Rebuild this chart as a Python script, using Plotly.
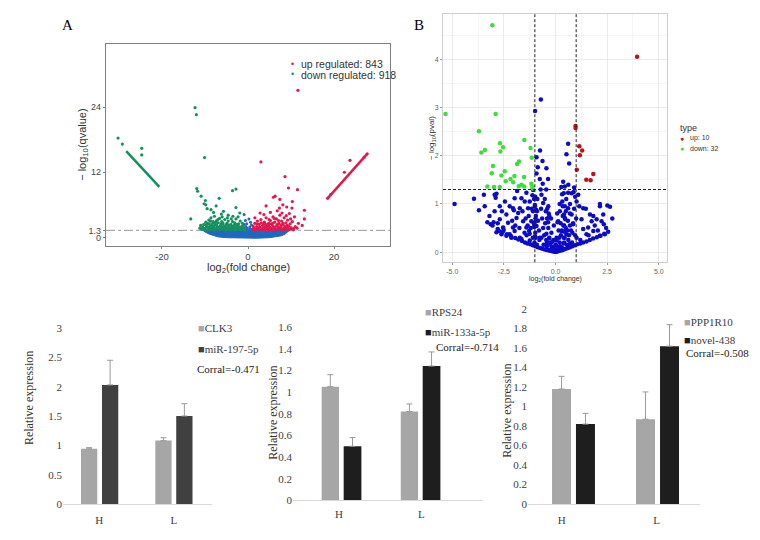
import plotly.graph_objects as go

W, H = 760, 540
def px(x): return x / W
def py(y): return 1 - y / H

# ---------------- Panel A data ----------------
a_green_x = [-30.2,-29.2,-24.7,-24.7,-12.3,-12.0,-10.1,-11.9,-11.7,-10.9,-9.9,-9.8,-6.7,-3.6,-2.8,-13.3,-8.6,-7.4,-5.7,-2.8,-1.9,-10.2,-9.5,-8.0,-6.2,-4.6,-3.5,
             -11.0,-10.6,-10.3,-10.0,-9.8,-9.6,-9.3,-9.1,-9.0,-8.8,-8.6,-8.5,-8.3,-8.1,-7.9,-7.8,-7.6,-7.4,-7.3,-7.1,-6.9,-6.8,-6.6,-6.4,-6.3,-6.1,-5.9,-5.8,-5.6,-5.4,-5.3,-5.1,-4.9,-4.7,-4.6,-4.4,-4.2,-4.0,-3.8,-3.6,-3.4,-3.2,-3.0,-2.8,-2.6,-2.4,-2.2,-2.0,-1.8,-1.6,-1.4,-1.2,-1.0,-0.8,
             -10.8,-9.9,-8.9,-7.7,-6.5,-5.2,-4.1,-2.9,-1.7,-8.2,-7.0,-6.0,-5.0,-3.9,-3.1,-2.3,-9.4,-8.7,-7.5,-6.2,-4.8,-1.3,-11.2,-10.4,-9.7,-8.4,-7.2,-5.7,-4.5,-3.3,-2.1,-1.5,
             -10.5,-9.2,-8.0,-6.7,-5.5,-4.3,-3.0,-1.9,-0.9,-7.9,-6.4,-5.1,-3.7,-2.5,-9.0,-7.3,-5.9,-4.4,-2.7]
a_green_y = [18.3,17.2,16.4,15.2,23.9,22.6,14.7,9.0,8.5,7.6,6.8,6.0,7.2,8.6,8.9,3.4,5.1,5.8,4.8,5.5,4.5,6.2,5.3,4.6,4.3,4.1,3.9,
             2.2,1.9,2.4,1.6,2.8,2.0,1.5,3.2,2.5,1.8,3.6,2.2,1.5,2.9,1.9,3.9,2.4,1.6,3.1,2.0,2.7,1.5,3.5,2.2,1.7,2.9,1.9,2.5,1.5,3.3,2.1,1.7,2.6,1.5,3.0,2.0,1.6,2.4,1.8,2.9,1.5,2.2,1.7,3.4,1.9,1.5,2.5,1.7,3.0,1.6,2.1,1.5,1.8,1.4,
             1.5,1.4,1.4,1.4,1.4,1.4,1.4,1.4,1.4,2.6,3.3,3.8,2.2,3.4,2.7,3.8,2.6,3.0,2.8,2.5,3.6,2.6,1.7,1.7,2.3,1.9,1.7,2.0,1.8,1.9,2.0,1.7,
             1.6,1.7,1.6,1.8,1.6,1.7,1.6,1.8,1.6,2.1,2.0,2.3,2.1,2.2,2.0,2.3,2.7,2.2,2.4]
a_green_line_x = [-28.3, -20.6]
a_green_line_y = [15.9, 9.3]

a_red_x = [11.6,3.0,8.6,9.4,11.5,5.9,6.3,7.4,10.3,13.1,13.1,4.2,7.3,9.0,10.2,2.8,1.6,11.7,12.6,8.1,6.8,5.2,3.7,9.6,10.8,
           1.0,1.2,1.4,1.6,1.8,2.0,2.2,2.4,2.6,2.8,3.0,3.2,3.4,3.6,3.8,4.0,4.2,4.4,4.6,4.8,5.0,5.2,5.4,5.6,5.8,6.0,6.2,6.4,6.6,6.8,7.0,7.2,7.4,7.6,7.8,8.0,8.2,8.4,8.6,8.8,9.0,9.2,9.4,9.6,9.8,10.0,10.3,10.6,11.0,11.4,
           1.5,2.5,3.5,4.5,5.5,6.5,7.5,8.5,9.5,10.5,2.1,3.1,4.1,5.1,6.1,7.1,8.1,9.1,4.9,6.9,8.9,7.9,3.9,5.9,7.7,9.9,
           1.3,2.3,3.3,4.3,5.3,6.3,7.3,8.3,9.3,10.1,4.7,5.7,6.7,8.7,3.6,
           22.4,23.7,19.2,27.0,18.5,27.7]
a_red_y = [27.1,13.9,11.2,9.1,8.8,7.4,7.6,7.0,6.6,5.0,3.4,5.8,5.4,5.6,5.4,4.5,3.6,2.6,2.2,6.0,4.9,4.6,4.2,4.4,3.8,
           1.5,2.1,1.7,2.6,1.5,2.0,3.0,1.6,2.4,1.9,3.3,1.5,2.2,1.7,2.8,1.5,3.6,2.0,1.6,2.6,1.9,3.1,1.5,2.3,3.8,1.8,2.8,1.5,3.4,2.1,1.7,2.6,4.1,1.9,3.0,1.5,2.3,3.6,1.8,2.7,1.6,3.2,2.1,1.5,2.5,1.8,2.9,1.6,2.0,1.7,
           1.4,1.4,1.4,1.4,1.4,1.4,1.4,1.4,1.4,1.4,2.5,2.7,2.4,2.5,3.5,3.1,2.6,2.2,3.3,2.4,4.0,4.5,1.9,2.0,2.2,3.4,
           1.7,1.8,1.6,1.8,1.7,1.9,1.8,1.7,1.9,1.6,2.2,2.6,2.3,2.0,2.4,
           12.0,14.2,7.9,14.8,7.2,15.4]
a_red_line_x = [18.5, 27.7]
a_red_line_y = [7.2, 15.4]

a_blue_outline_x = [-10.8,-10.0,-9.0,-8.0,-7.0,-5.0,-2.0,0.0,2.0,5.0,6.8,7.8,8.6,9.3,9.9,9.9,-10.8]
a_blue_outline_y = [1.5,1.0,0.6,0.3,0.1,-0.05,-0.15,-0.2,-0.15,-0.05,0.1,0.3,0.6,1.0,1.5,1.5,1.5]
a_blue_x = [-0.9,-0.6,-0.3,0.2,0.6,-0.5,0.4,0.8,-0.9,-0.2,0.5]
a_blue_y = [4.2,3.1,2.5,3.4,2.8,2.0,1.9,2.3,2.4,1.7,1.6]

# ---------------- Panel B data ----------------
b_up_x = [3.95,0.97,0.97,1.15,1.29,1.18,1.03,1.83,1.49,1.70]
b_up_y = [4.06,2.62,2.58,2.20,2.11,2.01,1.71,1.62,1.50,1.49]
b_down_x = [-3.06,-5.33,-2.90,-3.71,-3.59,-3.42,-2.69,-2.54,-2.67,-1.51,-1.21,-1.15,-3.03,-3.09,-2.46,-2.62,-2.41,-1.99,-1.86,-1.77,-1.52,-3.30,-2.98,-2.70,-1.78,-1.65,-1.52,-1.17,-1.12,-2.18,-1.12,-2.05]
b_down_y = [4.71,2.87,2.87,2.51,2.07,2.12,2.26,2.18,2.09,2.33,2.16,1.96,1.79,1.64,1.68,1.59,1.47,1.58,1.83,1.88,1.56,1.36,1.35,1.35,1.37,1.40,1.36,1.42,1.36,1.52,1.32,1.45]
b_ns_x = [-4.89,-3.95,-3.71,-3.43,-3.47,-3.14,-2.86,-2.90,-2.70,-2.74,-2.54,-2.38,-2.30,-2.06,-2.02,-1.86,-1.81,-1.65,-1.57,-1.41,-1.33,-1.28,-1.09,
          -0.92,-0.86,-0.76,-0.68,-0.60,-0.47,-0.41,-1.09,-1.17,-0.92,-0.76,-0.44,-0.12,-1.73,-1.98,-2.22,
          -2.86,-2.62,-2.51,-2.38,-2.14,-2.06,-1.89,-1.73,-1.65,-1.41,-1.25,-1.49,-1.98,-2.22,-2.70,-2.95,
          -0.71,-0.99,-0.75,-0.63,-0.44,-0.36,-0.92,
          0.61,0.53,0.66,0.37,0.45,0.40,0.61,0.78,0.90,1.02,1.15,1.34,1.47,1.67,1.83,2.15,2.15,2.51,2.64,2.75,2.31,2.23,2.34,1.99,1.75,1.58,1.83,2.15,2.39,1.34,1.26,1.50,1.02,0.69,0.37,
          0.21,0.13,0.45,0.61,0.78,0.85,0.29,0.53,1.10,0.05,-0.12,
          -1.0,-0.95,-1.05,-0.98,-1.02,-0.9,-0.85,-0.8,-0.7,-0.65,-0.6,-0.55,-0.5,-0.45,-0.35,-0.3,-0.25,-0.2,-0.15,-0.1,-0.05,0.0,0.05,0.1,0.15,0.2,0.25,0.3,0.35,0.4,0.45,0.5,0.55,0.6,0.65,0.7,0.75,0.8,0.85,0.9,0.95,1.0,
          -1.15,-1.2,-1.1,-1.3,-1.4,-0.88,-0.72,-0.52,-0.35,-0.22,-0.08,0.08,0.2,0.32,0.52,0.7,0.88,-1.12,-1.25,-0.62,-0.45,0.28,0.62,0.95,-0.3,0.1,0.42,-0.78,-0.58,0.62,0.82,
          -3.2,-2.95,-2.6,-2.45,-2.1,-1.95,-1.75,-1.6,-1.45,-1.5,-1.35,-1.25,-3.0,-2.8,-0.98,-1.02,-0.96,-0.9,-0.68,0.42,0.58,0.5,0.7,1.9,2.45,2.05,1.6,1.2,
          -3.3,-3.05,-2.8,-2.55,-2.35,-2.15,-1.95,-1.8,-1.62,-1.48,-1.36,-1.22,-1.1,-0.98,-0.86,-0.74,-0.63,-0.52,-0.42,-0.32,-0.24,-0.16,-0.08,-0.02,
          0.03,0.09,0.16,0.24,0.32,0.41,0.5,0.6,0.7,0.82,0.94,1.06,1.2,1.34,1.5,1.66,1.82,2.0,2.18,2.36,2.55,
          -1.04,-1.0,-0.97,-1.03,-0.99,-1.06,-0.94,-1.01,-0.4,-0.36,-0.44,-0.38,-0.33,-0.42,0.35,0.41,0.38,0.44,0.33,0.47,0.39,0.43,
          -0.28,-0.18,-0.1,-0.02,0.06,0.14,0.22,-0.22,-0.14,0.02,0.18,0.26,-0.32,0.31]
b_ns_y = [1.00,1.11,0.87,0.95,1.19,0.58,1.21,1.13,0.68,0.44,0.51,0.78,0.61,0.91,0.87,1.27,0.81,1.12,0.64,1.23,0.91,0.44,1.29,
          1.97,1.76,1.52,1.19,1.02,0.85,0.70,0.85,0.64,0.54,0.30,0.17,0.07,0.30,0.44,0.37,
          0.41,0.37,0.46,0.34,0.30,0.51,0.71,0.91,0.27,0.51,0.24,1.05,1.12,0.95,0.95,1.19,
          3.17,2.93,2.11,1.89,1.74,1.52,1.63,
          2.25,2.03,1.84,1.46,1.36,1.22,1.23,1.22,1.34,1.05,0.95,0.91,0.90,0.78,0.75,1.00,0.95,0.97,0.94,0.70,0.78,0.64,0.58,0.68,0.64,0.51,0.44,0.34,0.37,0.48,0.68,0.37,0.30,0.17,0.07,
          0.85,0.64,0.71,0.91,0.78,0.58,0.44,0.37,1.19,0.24,0.10,
          0.95,0.75,0.6,0.4,0.2,0.85,0.65,0.45,0.9,0.7,0.5,0.35,0.6,0.25,0.5,0.3,0.15,0.4,0.1,0.25,0.05,0.15,0.3,0.05,0.45,0.2,0.6,0.1,0.75,0.3,0.95,0.5,0.15,0.65,0.35,0.8,0.45,0.2,0.6,0.9,0.35,0.7,
          0.9,0.5,0.3,0.75,0.35,1.1,1.3,1.1,0.95,0.7,0.55,0.8,1.0,1.2,1.1,1.0,1.25,1.18,1.05,1.42,1.3,1.35,1.4,1.15,0.75,0.62,0.55,0.25,0.15,0.25,0.4,
          0.75,0.85,0.85,1.05,0.65,0.55,0.5,0.85,0.7,0.4,0.55,0.38,0.62,0.6,1.15,0.55,0.3,0.15,0.3,0.2,0.45,0.85,0.55,0.55,0.5,0.45,0.35,0.25,
          0.62,0.55,0.48,0.42,0.37,0.33,0.29,0.26,0.23,0.2,0.18,0.16,0.14,0.12,0.1,0.085,0.07,0.055,0.045,0.035,0.025,0.015,0.01,0.005,
          0.005,0.01,0.02,0.03,0.04,0.055,0.07,0.085,0.1,0.12,0.14,0.16,0.18,0.2,0.22,0.25,0.28,0.31,0.34,0.38,0.42,
          1.1,0.98,0.7,0.52,0.33,0.15,0.88,0.62,0.9,0.62,0.38,0.2,0.8,0.12,0.95,0.78,0.55,0.3,1.05,0.68,0.18,0.42,
          0.05,0.08,0.03,0.04,0.06,0.09,0.12,0.2,0.22,0.14,0.3,0.35,0.28,0.45]

# ---------------- Bar panels data ----------------
groups = ["H", "L"]
c_gene, c_gene_vals, c_gene_err = "CLK3", [0.94, 1.08], [0.02, 0.05]
c_mir, c_mir_vals, c_mir_err = "miR-197-5p", [2.03, 1.50], [0.42, 0.21]
c_corr = "Corral=-0.471"
d_gene, d_gene_vals, d_gene_err = "RPS24", [1.05, 0.82], [0.11, 0.07]
d_mir, d_mir_vals, d_mir_err = "miR-133a-5p", [0.50, 1.24], [0.08, 0.13]
d_corr = "Corral=-0.714"
e_gene, e_gene_vals, e_gene_err = "PPP1R10", [1.18, 0.87], [0.13, 0.28]
e_mir, e_mir_vals, e_mir_err = "novel-438", [0.82, 1.62], [0.11, 0.22]
e_corr = "Corral=-0.508"

c_ticks = [0, 0.5, 1, 1.5, 2, 2.5, 3]
c_ticktext = ["0", "0.5", "1", "1.5", "2", "2.5", "3"]
d_ticks = [0, 0.2, 0.4, 0.6, 0.8, 1, 1.2, 1.4, 1.6]
d_ticktext = ["0", "0.2", "0.4", "0.6", "0.8", "1", "1.2", "1.4", "1.6"]
e_ticks = [0, 0.2, 0.4, 0.6, 0.8, 1, 1.2, 1.4, 1.6, 1.8, 2]
e_ticktext = ["0", "0.2", "0.4", "0.6", "0.8", "1", "1.2", "1.4", "1.6", "1.8", "2"]

A_RED, A_GREEN, A_BLUE = "#e2184d", "#17905e", "#1f68c1"
B_RED, B_GREEN, B_BLUE = "#b8141b", "#3fdc3f", "#0b0bc8"
LIGHT_BAR = "#a6a6a6"

fig = go.Figure()

# Panel A traces
fig.add_trace(go.Scatter(x=a_blue_outline_x, y=a_blue_outline_y, fill="toself", fillcolor=A_BLUE,
                         line=dict(color=A_BLUE, width=1), mode="lines", xaxis="x", yaxis="y", hoverinfo="skip"))
fig.add_trace(go.Scatter(x=a_blue_x, y=a_blue_y, mode="markers", marker=dict(color=A_BLUE, size=3), xaxis="x", yaxis="y"))
fig.add_trace(go.Scatter(x=a_green_line_x, y=a_green_line_y, mode="lines", line=dict(color=A_GREEN, width=2.5), xaxis="x", yaxis="y"))
fig.add_trace(go.Scatter(x=a_red_line_x, y=a_red_line_y, mode="lines", line=dict(color=A_RED, width=2.5), xaxis="x", yaxis="y"))
fig.add_trace(go.Scatter(x=a_green_x, y=a_green_y, mode="markers", marker=dict(color=A_GREEN, size=3.2), xaxis="x", yaxis="y"))
fig.add_trace(go.Scatter(x=a_red_x, y=a_red_y, mode="markers", marker=dict(color=A_RED, size=3.2), xaxis="x", yaxis="y"))

# Panel B traces
fig.add_trace(go.Scatter(x=b_ns_x, y=b_ns_y, mode="markers", marker=dict(color=B_BLUE, size=4.5), xaxis="x2", yaxis="y2"))
fig.add_trace(go.Scatter(x=b_down_x, y=b_down_y, mode="markers", marker=dict(color=B_GREEN, size=4.5), xaxis="x2", yaxis="y2"))
fig.add_trace(go.Scatter(x=b_up_x, y=b_up_y, mode="markers", marker=dict(color=B_RED, size=4.5), xaxis="x2", yaxis="y2"))

def bars(xa, ya, vals, err, color, width, offsets):
    fig.add_trace(go.Bar(x=groups, y=vals, marker=dict(color=color, line=dict(width=0)),
                         width=width, offset=offsets,
                         error_y=dict(type="data", array=err, arrayminus=[0, 0], symmetric=False,
                                      color="#9a9a9a", thickness=1, width=3),
                         xaxis=xa, yaxis=ya))

bars("x3", "y3", c_gene_vals, c_gene_err, LIGHT_BAR, 0.218, [-0.245, -0.25])
bars("x3", "y3", c_mir_vals, c_mir_err, "#404040", 0.218, [0.036, 0.03])
bars("x4", "y4", d_gene_vals, d_gene_err, LIGHT_BAR, 0.21, [-0.21, -0.25])
bars("x4", "y4", d_mir_vals, d_mir_err, "#1e1e1e", 0.215, [0.057, 0.016])
bars("x5", "y5", e_gene_vals, e_gene_err, LIGHT_BAR, 0.2, [-0.102, -0.218])
bars("x5", "y5", e_mir_vals, e_mir_err, "#1e1e1e", 0.2, [0.15, 0.035])

sans = "Liberation Sans, Arial, sans-serif"
serif = "Liberation Serif, Times New Roman, serif"

layout = dict(
    width=W, height=H, margin=dict(l=0, r=0, t=0, b=0),
    paper_bgcolor="white", plot_bgcolor="white", showlegend=False,
    # Panel A
    xaxis=dict(domain=[px(106), px(390)], range=[-33, 33], tickvals=[-20, 0, 20], ticktext=["-20", "0", "20"],
               anchor="y", showline=True, mirror=True, linecolor="#808080", linewidth=1.2, showgrid=False, zeroline=False,
               ticks="outside", ticklen=2, tickcolor="#808080", tickfont=dict(family=sans, size=9.5, color="#444")),
    yaxis=dict(domain=[py(245), py(39)], range=[-1.5, 35.6], tickvals=[0, 1.3, 12, 24], ticktext=["0", "1.3", "12", "24"],
               anchor="x", showline=True, mirror=True, linecolor="#808080", linewidth=1.2, showgrid=False, zeroline=False,
               ticks="outside", ticklen=2, tickcolor="#808080", tickfont=dict(family=sans, size=9, color="#444")),
    # Panel B
    xaxis2=dict(domain=[px(443), px(667)], range=[-5.45, 5.4], tickvals=[-5, -2.5, 0, 2.5, 5],
                ticktext=["-5.0", "-2.5", "0.0", "2.5", "5.0"], anchor="y2",
                showline=True, mirror=True, linecolor="#cfcfcf", linewidth=1, showgrid=True, gridcolor="#ebebeb",
                zeroline=False, ticks="outside", ticklen=2, tickcolor="#999",
                minor=dict(dtick=1.25, tick0=0, showgrid=True, gridcolor="#f5f5f5"),
                tickfont=dict(family=sans, size=7, color="#666")),
    yaxis2=dict(domain=[py(262), py(8)], range=[-0.21, 4.95], tickvals=[0, 1, 2, 3, 4], anchor="x2",
                showline=True, mirror=True, linecolor="#cfcfcf", linewidth=1, showgrid=True, gridcolor="#ebebeb",
                zeroline=False, ticks="outside", ticklen=2, tickcolor="#999",
                minor=dict(dtick=0.5, tick0=0, showgrid=True, gridcolor="#f5f5f5"),
                tickfont=dict(family=sans, size=7, color="#666")),
)

def bar_axes(n, x0, x1, xr, y0px, y1px, yr, tv, tt, standoff):
    layout["xaxis%d" % n] = dict(domain=[px(x0), px(x1)], range=xr, type="category", showline=True,
                                 linecolor="#d9d9d9", linewidth=1, showgrid=False, zeroline=False, ticks="",
                                 ticklabelstandoff=standoff,
                                 tickfont=dict(family=serif, size=11, color="#404040"), anchor="y%d" % n)
    layout["yaxis%d" % n] = dict(domain=[py(y0px), py(y1px)], range=yr, tickvals=tv, ticktext=tt, showline=False,
                                 showgrid=False, zeroline=False, ticks="",
                                 tickfont=dict(family=serif, size=11, color="#404040"), anchor="x%d" % n)

bar_axes(3, 63, 212, [-0.486, 1.509], 509.3, 329.3, [0, 3], c_ticks, c_ticktext, 6)
bar_axes(4, 293, 483, [-0.558, 1.748], 505.7, 328.3, [0, 1.6], d_ticks, d_ticktext, 3)
bar_axes(5, 528, 700, [-0.355, 1.456], 509.3, 310, [0, 2], e_ticks, e_ticktext, 6)

fig.update_layout(**layout)

# Shapes: threshold lines
fig.add_shape(type="line", xref="x domain", yref="y", x0=0, x1=1, y0=1.3, y1=1.3,
              line=dict(color="#999", width=1, dash="dashdot"), layer="below")
for xv in (-1, 1):
    fig.add_shape(type="line", xref="x2", yref="y2 domain", x0=xv, x1=xv, y0=0, y1=1,
                  line=dict(color="#222", width=1, dash="3px,2px"))
fig.add_shape(type="line", xref="x2 domain", yref="y2", x0=0, x1=1, y0=1.3, y1=1.3,
              line=dict(color="#222", width=1, dash="3px,2px"))

ann = []
def A(x, y, text, size, family, color="#000", xanchor="left", angle=0):
    ann.append(dict(x=px(x), y=py(y), xref="paper", yref="paper", text=text, showarrow=False,
                    font=dict(family=family, size=size, color=color), xanchor=xanchor, yanchor="middle",
                    textangle=angle))

# Panel letters
A(67, 19, "A", 15, serif, xanchor="center")
A(419, 19, "B", 15, serif, xanchor="center")
# Panel A titles / legend
A(83, 142, "− log<sub>10</sub>(qvalue)", 11, sans, "#333", "center", -90)
A(248, 268, "log<sub>2</sub>(fold change)", 11, sans, "#333", "center")
A(289, 59.5, '<span style="color:%s">•</span>' % A_RED, 9, sans, xanchor="left")
A(289, 70, '<span style="color:%s">•</span>' % A_GREEN, 9, sans, xanchor="left")
A(299, 59.5, "up regulated: 843", 10.5, sans, "#333")
A(299, 70.5, "down regulated: 918", 10.5, sans, "#333")
# Panel B titles / legend
A(432, 135, "− log<sub>10</sub>(pval)", 8, sans, "#333", "center", -90)
A(555, 279, "log<sub>2</sub>(fold change)", 7, sans, "#333", "center")
A(678, 125, "type", 9, sans, "#333")
A(678, 135.5, '<span style="color:%s">●</span>' % B_RED, 7, sans)
A(678, 145.5, '<span style="color:%s">●</span>' % B_GREEN, 7, sans)
A(688, 135.5, "up: 10", 7, sans, "#333")
A(688, 145.5, "down: 32", 7, sans, "#333")
# Bar panel legends
def sq(c): return '<span style="color:%s">■</span>' % c
A(196, 329, sq(LIGHT_BAR) + c_gene, 11, serif, "#404040")
A(196, 351, sq("#404040") + c_mir, 11, serif, "#404040")
A(195, 371, c_corr, 11, serif, "#222")
A(423, 313, sq(LIGHT_BAR) + d_gene, 11, serif, "#404040")
A(423, 333, sq("#1e1e1e") + d_mir, 11, serif, "#404040")
A(434, 349, d_corr, 11, serif, "#222")
A(682, 323, sq(LIGHT_BAR) + e_gene, 11, serif, "#404040")
A(682, 342, sq("#1e1e1e") + e_mir, 11, serif, "#404040")
A(684, 355, e_corr, 11, serif, "#222")
# Bar y titles
A(29, 401, "Relative expression", 12, serif, "#333", "center", -90)
A(273, 416, "Relative expression", 12, serif, "#333", "center", -90)
A(507, 414, "Relative expression", 12, serif, "#333", "center", -90)

fig.update_layout(annotations=ann)
fig.write_html("out.html")
